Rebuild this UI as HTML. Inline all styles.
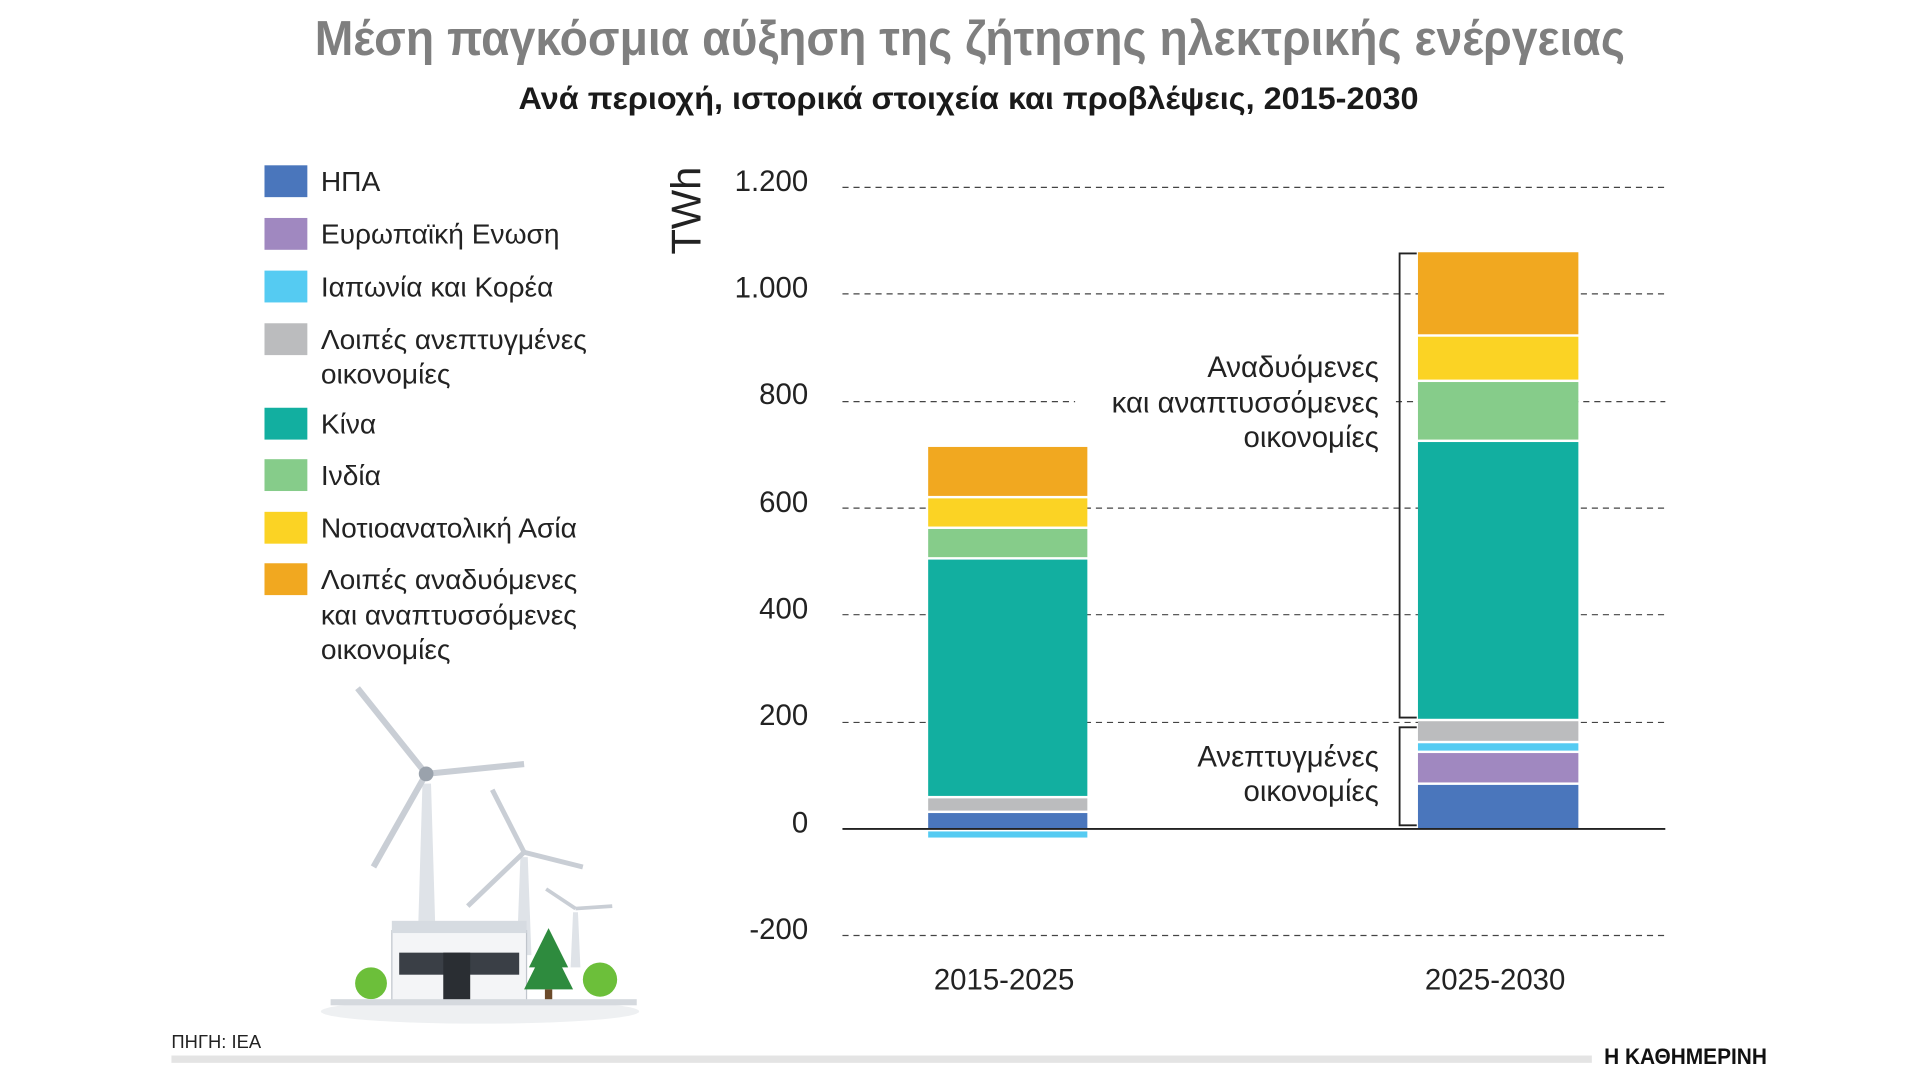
<!DOCTYPE html>
<html><head><meta charset="utf-8"><style>
html,body{margin:0;padding:0;background:#fff;}
svg{display:block;}
text{font-family:"Liberation Sans","DejaVu Sans",sans-serif;}
</style></head><body>
<svg width="1920" height="1080" viewBox="0 0 1568 882" preserveAspectRatio="xMinYMin meet" xmlns="http://www.w3.org/2000/svg">
<rect width="1568" height="882" fill="#fff"/>
<text x="792" y="45" text-anchor="middle" font-size="40" font-weight="bold" fill="#7f7f7f" textLength="1070" lengthAdjust="spacingAndGlyphs">Μέση παγκόσμια αύξηση της ζήτησης ηλεκτρικής ενέργειας</text>
<text x="791" y="89" text-anchor="middle" font-size="26" font-weight="bold" fill="#1a1a1a" textLength="735" lengthAdjust="spacingAndGlyphs">Ανά περιοχή, ιστορικά στοιχεία και προβλέψεις, 2015-2030</text>

<g font-size="23" fill="#222">
<rect x="216" y="135" width="35" height="26" fill="#4a76bc"/><text x="262" y="156">ΗΠΑ</text>
<rect x="216" y="178" width="35" height="26" fill="#a088c0"/><text x="262" y="199">Ευρωπαϊκή Ενωση</text>
<rect x="216" y="221" width="35" height="26" fill="#55cbf2"/><text x="262" y="242">Ιαπωνία και Κορέα</text>
<rect x="216" y="264" width="35" height="26" fill="#bbbcbe"/><text x="262" y="285">Λοιπές ανεπτυγμένες</text><text x="262" y="313">οικονομίες</text>
<rect x="216" y="333" width="35" height="26" fill="#12afa0"/><text x="262" y="354">Κίνα</text>
<rect x="216" y="375" width="35" height="26" fill="#86cc8a"/><text x="262" y="396">Ινδία</text>
<rect x="216" y="418" width="35" height="26" fill="#fbd324"/><text x="262" y="439">Νοτιοανατολική Ασία</text>
<rect x="216" y="460" width="35" height="26" fill="#f1a820"/><text x="262" y="481">Λοιπές αναδυόμενες</text><text x="262" y="510">και αναπτυσσόμενες</text><text x="262" y="538">οικονομίες</text>
</g>

<text transform="translate(572,172) rotate(-90)" text-anchor="middle" font-size="34" fill="#222">TWh</text>
<g font-size="24" fill="#222" text-anchor="end">
<text x="660" y="156">1.200</text><text x="660" y="243">1.000</text><text x="660" y="330">800</text>
<text x="660" y="418">600</text><text x="660" y="505">400</text><text x="660" y="592">200</text>
<text x="660" y="680">0</text><text x="660" y="767">-200</text>
</g>
<g stroke="#444" stroke-width="1" stroke-dasharray="5,4">
<line x1="688" y1="153" x2="1360" y2="153"/><line x1="688" y1="240" x2="1360" y2="240"/>
<line x1="688" y1="328" x2="878" y2="328"/><line x1="1140" y1="328" x2="1360" y2="328"/>
<line x1="688" y1="415" x2="1360" y2="415"/><line x1="688" y1="502" x2="1360" y2="502"/>
<line x1="688" y1="590" x2="1360" y2="590"/><line x1="688" y1="764" x2="1360" y2="764"/>
</g>

<g>
<rect x="758" y="365" width="130" height="40" fill="#f1a820"/>
<rect x="758" y="407" width="130" height="23" fill="#fbd324"/>
<rect x="758" y="432" width="130" height="23" fill="#86cc8a"/>
<rect x="758" y="457" width="130" height="193" fill="#12afa0"/>
<rect x="758" y="652" width="130" height="10" fill="#bbbcbe"/>
<rect x="758" y="664" width="130" height="13" fill="#4a76bc"/>
<rect x="758" y="679" width="130" height="5" fill="#55cbf2"/>
</g>
<g>
<rect x="1158" y="206" width="131" height="67" fill="#f1a820"/>
<rect x="1158" y="275" width="131" height="35" fill="#fbd324"/>
<rect x="1158" y="312" width="131" height="47" fill="#86cc8a"/>
<rect x="1158" y="361" width="131" height="226" fill="#12afa0"/>
<rect x="1158" y="589" width="131" height="16" fill="#bbbcbe"/>
<rect x="1158" y="607" width="131" height="6" fill="#55cbf2"/>
<rect x="1158" y="615" width="131" height="24" fill="#a088c0"/>
<rect x="1158" y="641" width="131" height="36" fill="#4a76bc"/>
</g>
<line x1="688" y1="677" x2="1360" y2="677" stroke="#222" stroke-width="1.5"/>

<g fill="none" stroke="#222" stroke-width="1.5">
<polyline points="1157,207 1143,207 1143,586 1157,586"/>
<polyline points="1157,594 1143,594 1143,674 1157,674"/>
</g>
<g font-size="24" fill="#222" text-anchor="end">
<text x="1126" y="308">Αναδυόμενες</text>
<text x="1126" y="337">και αναπτυσσόμενες</text>
<text x="1126" y="365">οικονομίες</text>
<text x="1126" y="626">Ανεπτυγμένες</text>
<text x="1126" y="654">οικονομίες</text>
</g>
<g font-size="24" fill="#222" text-anchor="middle">
<text x="820" y="808">2015-2025</text><text x="1221" y="808">2025-2030</text>
</g>

<g>
<ellipse cx="392" cy="826" rx="130" ry="10" fill="#eef0f2"/>
<polygon points="345,640 352,640 356,775 341,775" fill="#dfe3e8"/>
<line x1="348" y1="632" x2="292" y2="562" stroke="#c9ced5" stroke-width="5"/>
<line x1="348" y1="632" x2="428" y2="624" stroke="#c9ced5" stroke-width="5"/>
<line x1="348" y1="632" x2="305" y2="708" stroke="#c9ced5" stroke-width="5"/>
<circle cx="348" cy="632" r="6" fill="#9aa2ac"/>
<polygon points="425,700 431,700 434,780 422,780" fill="#dfe3e8"/>
<line x1="428" y1="696" x2="402" y2="645" stroke="#c9ced5" stroke-width="4"/>
<line x1="428" y1="696" x2="476" y2="708" stroke="#c9ced5" stroke-width="4"/>
<line x1="428" y1="696" x2="382" y2="740" stroke="#c9ced5" stroke-width="4"/>
<polygon points="468,745 472,745 474,790 466,790" fill="#dfe3e8"/>
<line x1="470" y1="742" x2="446" y2="726" stroke="#c9ced5" stroke-width="3"/>
<line x1="470" y1="742" x2="500" y2="740" stroke="#c9ced5" stroke-width="3"/>
<rect x="320" y="760" width="110" height="58" fill="#f4f5f7" stroke="#c0c5cc"/>
<rect x="320" y="752" width="110" height="10" fill="#d6dbe1"/>
<rect x="326" y="778" width="98" height="18" fill="#3a3f46"/>
<rect x="362" y="778" width="22" height="40" fill="#2a2e33"/>
<polygon points="448,758 432,790 464,790" fill="#2e8b3e"/>
<polygon points="448,768 428,808 468,808" fill="#2e8b3e"/>
<rect x="445" y="808" width="6" height="10" fill="#6b4a2a"/>
<circle cx="303" cy="803" r="13" fill="#6cbf3a"/>
<circle cx="490" cy="800" r="14" fill="#6cbf3a"/>
<rect x="270" y="816" width="250" height="5" fill="#d5d9de"/>
</g>

<text x="140" y="856" font-size="15" fill="#222">ΠΗΓΗ: IEA</text>
<rect x="140" y="862" width="1160" height="6" fill="#e4e4e4"/>
<text x="1310" y="869" font-size="18" font-weight="bold" fill="#111" font-family="Liberation Serif, serif" textLength="133" lengthAdjust="spacingAndGlyphs">Η ΚΑΘΗΜΕΡΙΝΗ</text>
</svg>
</body></html>
